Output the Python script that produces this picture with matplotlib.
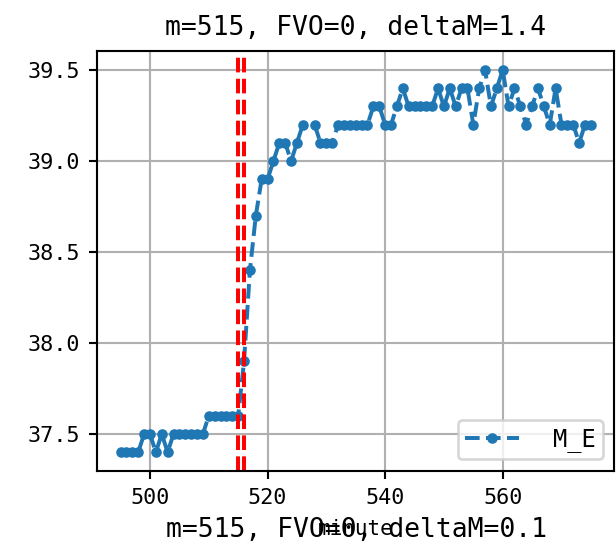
import numpy as np
import matplotlib
matplotlib.use("Agg")
import matplotlib.pyplot as plt

# minute index and M_E readings (527 has no reading)
minutes = list(range(495, 576))
m_e = [
    37.4, 37.4, 37.4, 37.4, 37.5, 37.5, 37.4, 37.5, 37.4,            # 495-503
    37.5, 37.5, 37.5, 37.5, 37.5, 37.5,                              # 504-509
    37.6, 37.6, 37.6, 37.6, 37.6, 37.6,                              # 510-515
    37.9, 38.4, 38.7, 38.9, 38.9, 39.0, 39.1, 39.1, 39.0, 39.1, 39.2, # 516-526
    np.nan,                                                          # 527
    39.2, 39.1, 39.1, 39.1,                                          # 528-531
    39.2, 39.2, 39.2, 39.2, 39.2, 39.2,                              # 532-537
    39.3, 39.3, 39.2, 39.2, 39.3, 39.4,                              # 538-543
    39.3, 39.3, 39.3, 39.3, 39.3,                                    # 544-548
    39.4, 39.3, 39.4, 39.3, 39.4, 39.4, 39.2, 39.4, 39.5,            # 549-557
    39.3, 39.4, 39.5, 39.3, 39.4, 39.3, 39.2, 39.3, 39.4,            # 558-566
    39.3, 39.2, 39.4, 39.2, 39.2, 39.2, 39.1, 39.2, 39.2,            # 567-575
]
event_lines = [515, 516]
title_top = "m=515, FVO=0, deltaM=1.4"
title_next = "m=515, FVO=0, deltaM=0.1"

plt.rcParams["font.family"] = ["DejaVu Sans Mono"]

dpi = 190
fig = plt.figure(figsize=(616 / dpi, 553 / dpi), dpi=dpi)
ax = fig.add_axes([0.1576, 0.1477, 0.8398, 0.7602])

ax.plot(minutes, m_e, "--", marker=".", label="M_E")
for m in event_lines:
    ax.axvline(m, color="r", linestyle="--", linewidth=1.5)

ax.grid(True)
ax.set_title(title_top, fontsize=10)
ax.set_xlabel("minute", fontsize=7.9)
ax.tick_params(labelsize=8.3, length=3)
ax.set_xticks([500, 520, 540, 560])
ax.set_yticks([37.5, 38.0, 38.5, 39.0, 39.5])
ax.legend(loc="lower right", fontsize=9, handlelength=2.3,
          handletextpad=1.4, borderpad=0.3)

# title of the next (cropped) subplot, overlapping the x label
fig.text(0.578, 0.029, title_next, ha="center", va="baseline", fontsize=10)

fig.savefig("out.png", dpi=dpi)
